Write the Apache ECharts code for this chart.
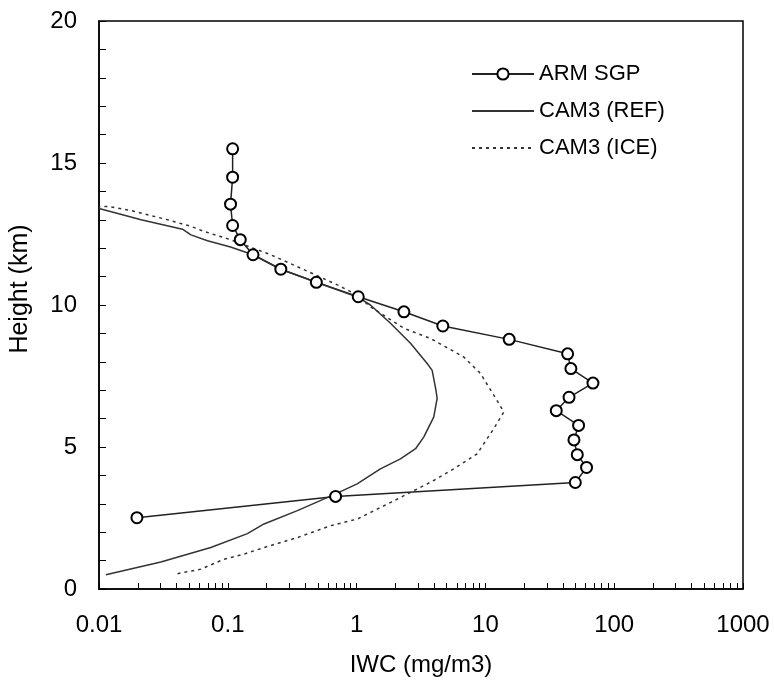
<html>
<head>
<meta http-equiv="Content-Type" content="text/html; charset=utf-8" />
<script src="https://cdn.jsdelivr.net/npm/echarts@6/dist/echarts.min.js"></script>
<style>
  html, body { margin: 0; padding: 0; background: #fff; }
</style>
</head>
<body>
<div id="main" style="width:774px;height:683px;"></div>
<script type="text/javascript">
// ARM SGP observed profile: [IWC (mg/m3), height (km)]
var armIwc    = [0.109, 0.109, 0.105, 0.109, 0.125, 0.157, 0.258, 0.487, 1.03, 2.33, 4.67, 15.3,
                 43.5, 46.1, 68.4, 44.6, 35.5, 52.9, 48.7, 51.7, 61.0, 49.9, 0.687, 0.0197];
var armHeight = [15.5, 14.5, 13.55, 12.8, 12.3, 11.77, 11.26, 10.8, 10.29, 9.76, 9.26, 8.79,
                 8.28, 7.76, 7.25, 6.75, 6.28, 5.76, 5.25, 4.73, 4.28, 3.75, 3.26, 2.51];

// CAM3 (REF)
var refIwc    = [0.0113, 0.0302, 0.0738, 0.142, 0.191, 0.347, 0.688, 1.01, 1.53, 2.19, 2.87, 3.32,
                 3.97, 4.22, 4.13, 3.86, 3.53, 2.62, 1.84, 1.28, 1.03, 0.487, 0.258, 0.157,
                 0.105, 0.0696, 0.0517, 0.0445, 0.0212, 0.01355, 0.01];
var refHeight = [0.5, 0.95, 1.46, 1.95, 2.29, 2.76, 3.35, 3.70, 4.23, 4.58, 4.94, 5.35,
                 6.05, 6.71, 7.0, 7.70, 7.94, 8.65, 9.35, 10.0, 10.27, 10.8, 11.26, 11.77,
                 12.04, 12.26, 12.47, 12.67, 13.0, 13.24, 13.4];

// CAM3 (ICE)
var iceIwc    = [0.0407, 0.0618, 0.0936, 0.134, 0.191, 0.347, 0.629, 1.01, 1.84, 2.78, 3.97, 5.68,
                 8.62, 9.70, 11.6, 13.9, 12.3, 9.15, 6.79, 3.75, 2.33, 1.28, 0.953, 0.708,
                 0.347, 0.215, 0.105, 0.0655, 0.0517, 0.0341, 0.0177, 0.0117, 0.01];
var iceHeight = [0.54, 0.70, 1.05, 1.23, 1.46, 1.81, 2.23, 2.46, 3.05, 3.46, 3.82, 4.23,
                 4.76, 5.11, 5.64, 6.23, 6.64, 7.59, 8.17, 8.82, 9.18, 9.94, 10.41, 10.71,
                 11.35, 11.77, 12.30, 12.59, 12.77, 13.0, 13.33, 13.47, 13.46];

var seriesNames = ['ARM SGP', 'CAM3 (REF)', 'CAM3 (ICE)'];
var xTickLabels = ['0.01', '0.1', '1', '10', '100', '1000'];
var xTickValues = [0.01, 0.1, 1, 10, 100, 1000];

// tick marks at 1..9 of every decade
var xTickMarks = [];
for (var d = 0; d < xTickValues.length; d++) {
    xTickMarks.push(xTickValues[d]);
    if (d < xTickValues.length - 1) {
        for (var m = 2; m <= 9; m++) xTickMarks.push(+(xTickValues[d] * m).toPrecision(3));
    }
}

function pairs(xs, ys) {
    var out = [];
    for (var i = 0; i < xs.length; i++) out.push([xs[i], ys[i]]);
    return out;
}

var font = 'Arial, "Liberation Sans", sans-serif';
var myChart = echarts.init(document.getElementById('main'));

myChart.setOption({
    animation: false,
    backgroundColor: '#fff',
    textStyle: { fontFamily: font, color: '#000' },
    grid: {
        left: 98, right: 31, top: 21, bottom: 94,
        show: true, borderColor: '#000', borderWidth: 1.5,
        containLabel: false
    },
    legend: {
        orient: 'vertical',
        left: 466, top: 58,
        itemWidth: 62, itemHeight: 14, itemGap: 15,
        data: [
            { name: seriesNames[0] },
            { name: seriesNames[1], itemStyle: { opacity: 0 } },
            { name: seriesNames[2], itemStyle: { opacity: 0 } }
        ],
        textStyle: { fontFamily: font, fontSize: 22, color: '#000', lineHeight: 22 }
    },
    xAxis: {
        type: 'log',
        logBase: 10,
        min: 0.01, max: 1000,
        name: 'IWC (mg/m3)',
        nameLocation: 'middle',
        nameGap: 64,
        nameTextStyle: { fontFamily: font, fontSize: 24, color: '#000' },
        axisLine: { lineStyle: { color: '#000', width: 1.5 } },
        axisTick: { inside: true, length: 6, lineStyle: { color: '#000', width: 1 }, customValues: xTickMarks },
        axisLabel: {
            fontFamily: font, fontSize: 24, color: '#000', margin: 24,
            customValues: xTickValues,
            formatter: function (v) {
                var i = xTickValues.indexOf(+Number(v).toPrecision(6));
                return i >= 0 ? xTickLabels[i] : '';
            }
        },
        splitLine: { show: false }
    },
    yAxis: {
        type: 'value',
        min: 0, max: 20, interval: 5,
        name: 'Height (km)',
        nameLocation: 'middle',
        nameGap: 66,
        nameTextStyle: { fontFamily: font, fontSize: 25, color: '#000', padding: [0, 0, 0, 32] },
        axisLine: { show: true, lineStyle: { color: '#000', width: 1.5 } },
        axisTick: { show: true, inside: true, length: 7, lineStyle: { color: '#000', width: 1 } },
        minorTick: { show: true, splitNumber: 5, length: 7, lineStyle: { color: '#000', width: 1 } },
        axisLabel: { fontFamily: font, fontSize: 24, color: '#000', margin: 22 },
        splitLine: { show: false }
    },
    series: [
        {
            name: seriesNames[0],
            type: 'line',
            data: pairs(armIwc, armHeight),
            symbol: 'emptyCircle',
            symbolSize: 11,
            showAllSymbol: true,
            lineStyle: { color: '#222', width: 1.5 },
            itemStyle: { color: '#000', borderColor: '#000', borderWidth: 1.5 },
            z: 3
        },
        {
            name: seriesNames[1],
            type: 'line',
            data: pairs(refIwc, refHeight),
            symbol: 'none',
            lineStyle: { color: '#333', width: 1.5 },
            itemStyle: { color: '#333' }
        },
        {
            name: seriesNames[2],
            type: 'line',
            data: pairs(iceIwc, iceHeight),
            symbol: 'none',
            lineStyle: { color: '#333', width: 1.5, type: [3, 4] },
            itemStyle: { color: '#333' }
        }
    ]
});
</script>
</body>
</html>
